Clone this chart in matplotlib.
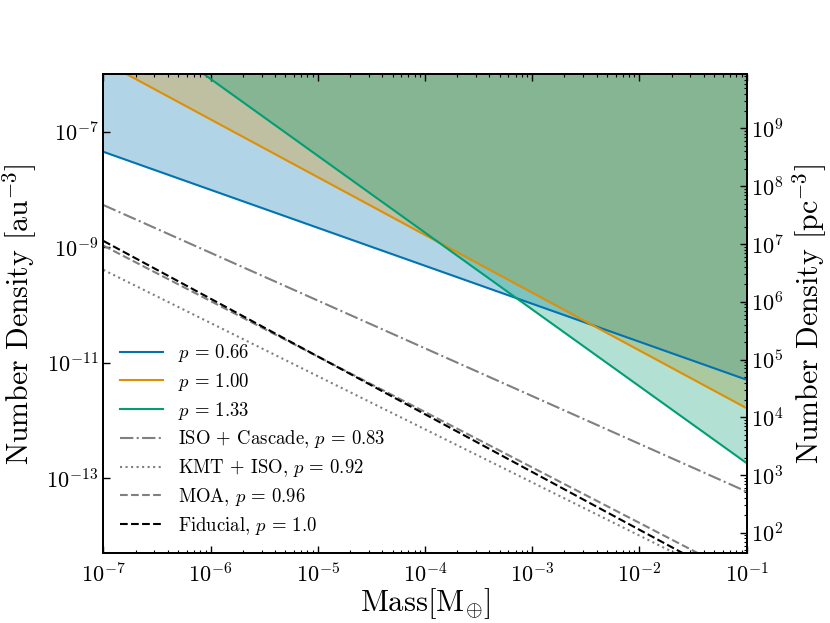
import numpy as np
import matplotlib
matplotlib.use("Agg")
import matplotlib.pyplot as plt
from matplotlib.ticker import LogLocator, NullLocator, NullFormatter

plt.rcParams['mathtext.fontset'] = 'cm'
plt.rcParams['font.family'] = 'serif'
plt.rcParams['font.serif'] = ['cmr10', 'DejaVu Serif']
plt.rcParams['axes.formatter.use_mathtext'] = True
plt.rcParams['axes.unicode_minus'] = False

# ---- data ----
mass_ends = [1e-7, 1e-1]                     # Earth masses
n_p066 = [4.5e-8, 5.1e-12]                   # au^-3
n_p100 = [1.64e-6, 1.64e-12]
n_p133 = [1.76e-5, 1.84e-13]
n_iso_cascade = [5.4e-9, 5.9e-14]
n_kmt_iso = [4.07e-10, 1.23e-15]
n_moa = [1.07e-9, 1.86e-15]
n_fiducial = [1.29e-9, 1.29e-15]

labels_band = [r"$p\,=\,0.66$", r"$p\,=\,1.00$", r"$p\,=\,1.33$"]
labels_obs = [r"ISO + Cascade, $p\,=\,0.83$",
              r"KMT + ISO, $p\,=\,0.92$",
              r"MOA, $p\,=\,0.96$",
              r"Fiducial, $p\,=\,1.0$"]

AU3_PER_PC3 = 206265.0 ** 3
ylim_au = (5e-15, 1e-6)
xlim = (1e-7, 1e-1)

band_colors = ['#0173b2', '#de8f05', '#029e73']

fig = plt.figure(figsize=(8.3, 6.23), dpi=100)
ax = fig.add_axes([0.1245, 0.1116, 0.8994 - 0.1245, 0.8812 - 0.1116])

x = np.array(mass_ends)
bands = [n_p066, n_p100, n_p133]
for n, c in zip(bands, band_colors):
    ax.fill_between(x, n, [1.0, 1.0], color=c, alpha=0.3, linewidth=0)
for n, c, lab in zip(bands, band_colors, labels_band):
    ax.plot(x, n, color=c, lw=1.5, label=lab)

ax.plot(x, n_iso_cascade, color='gray', ls='-.', lw=1.5, label=labels_obs[0])
ax.plot(x, n_kmt_iso, color='gray', ls=':', lw=1.5, label=labels_obs[1])
ax.plot(x, n_moa, color='gray', ls='--', lw=1.5, label=labels_obs[2])
ax.plot(x, n_fiducial, color='black', ls='--', lw=1.5, label=labels_obs[3])

ax.set_xscale('log')
ax.set_yscale('log')
ax.set_xlim(*xlim)
ax.set_ylim(*ylim_au)

ax.xaxis.set_major_locator(LogLocator(base=10, numticks=20))
ax.xaxis.set_minor_locator(LogLocator(base=10, subs=np.arange(2, 10), numticks=20))
ax.xaxis.set_minor_formatter(NullFormatter())
ax.set_yticks([1e-7, 1e-9, 1e-11, 1e-13])
ax.yaxis.set_minor_locator(NullLocator())

ax.tick_params(axis='x', which='both', direction='in', top=True, bottom=True, labelsize=16, pad=6)
ax.tick_params(axis='y', which='both', direction='in', left=True, right=False, labelsize=16)
ax.tick_params(which='major', length=5, width=1)
ax.tick_params(which='minor', length=2.5, width=0.8)

ax.set_xlabel(r"Mass[M$_{\oplus}$]", fontsize=22)
ax.set_ylabel(r"Number Density [au$^{-3}$]", fontsize=21.5)
ax.xaxis.set_label_coords(0.5, -0.068)
ax.yaxis.set_label_coords(-0.100, 0.5)

ax2 = ax.twinx()
ax2.set_yscale('log')
ax2.set_ylim(ylim_au[0] * AU3_PER_PC3, ylim_au[1] * AU3_PER_PC3)
ax2.yaxis.set_major_locator(LogLocator(base=10, numticks=20))
ax2.yaxis.set_minor_locator(LogLocator(base=10, subs=np.arange(2, 10), numticks=20))
ax2.yaxis.set_minor_formatter(NullFormatter())
ax2.tick_params(axis='y', which='both', direction='in', labelsize=16)
ax2.tick_params(which='major', length=5, width=1)
ax2.tick_params(which='minor', length=2.5, width=0.8)
ax2.set_ylabel(r"Number Density [pc$^{-3}$]", fontsize=21.5)
ax2.yaxis.set_label_coords(1.069, 0.5)

for a in (ax, ax2):
    for s in a.spines.values():
        s.set_linewidth(1.3)

ax.legend(loc='lower left', frameon=False, fontsize=13.5, handlelength=2.3,
          labelspacing=0.36)

fig.savefig('out.png', dpi=100)
